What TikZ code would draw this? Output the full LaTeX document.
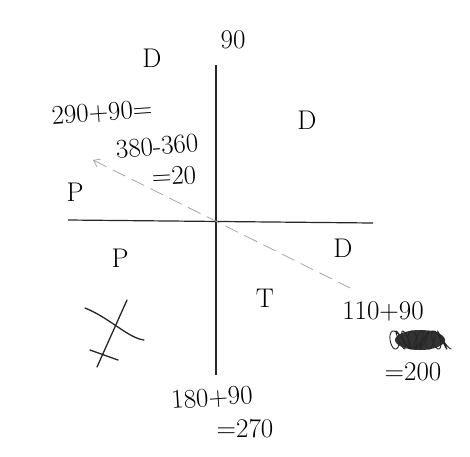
\documentclass[tikz,border=0pt]{standalone}
\usetikzlibrary{arrows.meta}
\tikzset{
  hand/.style={font=\fontsize{27}{30}\selectfont, inner sep=0pt},
  axis/.style={line width=1.2pt, black!85},
  guide/.style={dashed, dash pattern=on 14pt off 7pt, gray!70, line width=0.8pt},
  pen/.style={line width=1.3pt, black!85, line cap=round}
}
\begin{document}
\begin{tikzpicture}[x=1pt, y=-1pt]
  \useasboundingbox (0,0) rectangle (470,456);
  % Axes.
  \coordinate (top) at (216,65);
  \coordinate (bottom) at (216,375);
  \coordinate (left) at (68,220);
  \coordinate (right) at (373,223);
  \draw[axis] (top) -- (bottom);
  \draw[axis] (left) -- (right);
  % The dashed direction line with its tip at top left.
  \coordinate (tip) at (93,160);
  \coordinate (tail) at (350,288);
  \draw[guide, {Straight Barb[length=6pt, width=9pt]}-] (tip) -- (tail);
  % Quadrant letters.
  \node[hand] (dtop) at (152,58) {D};
  \node[hand] (dright) at (307,120) {D};
  \node[hand] (dlow) at (343,248) {D};
  \node[hand] (pleft) at (75,192) {P};
  \node[hand] (plow) at (120,258) {P};
  \node[hand] (tee) at (265,298) {T};
  % Sums.
  \node[hand] (ninety) at (233,40) {90};
  \node[hand, rotate=4] (sumA) at (102,113) {290+90=};
  \node[hand, rotate=5] (sumB) at (157,146) {380-360};
  \node[hand, rotate=3] (sumC) at (174,176) {=20};
  \node[hand] (sumD) at (383,311) {110+90};
  \node[hand] (sumE) at (413,372) {=200};
  \node[hand, rotate=4] (sumF) at (212,398) {180+90};
  \node[hand] (sumG) at (245,429) {=270};
  % Crossed-out figure under the sums.
  \fill[black!80] (420,340) ellipse (25pt and 10pt);
  \draw[black!85, line width=0.9pt] plot[domain=0:28, samples=400, smooth]
    ({393 + 1.9*\x + 6*cos(2*\x r)}, {340 + 9*sin(2.3*\x r)});
  % The cross mark at lower left.
  \draw[pen] (85,308) .. controls (110,318) and (128,338) .. (144,340);
  \draw[pen] (127,300) -- (97,367);
  \draw[pen] (90,350) -- (118,360);
\end{tikzpicture}
\end{document}
